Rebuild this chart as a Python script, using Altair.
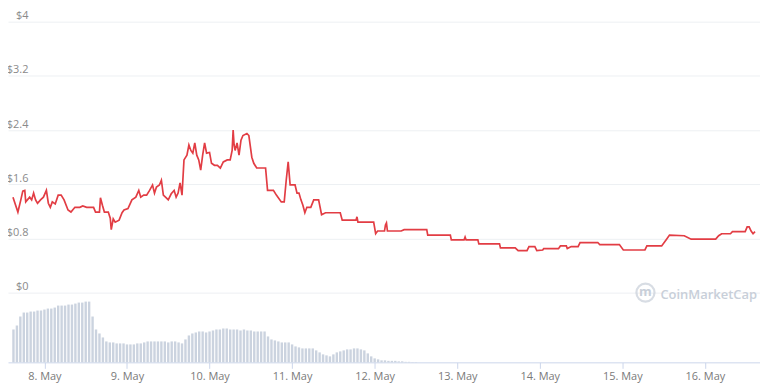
import altair as alt
import pandas as pd

# ---- data ----
# price series: hours since 7 May 00:00 (UTC) and price in USD
price_hours = [14.86, 16.29, 17.14, 17.71, 18.29, 18.57, 19.71, 20.29, 20.86, 21.43, 22.0, 22.86, 23.71,
               24.57, 25.14, 25.71, 26.29, 27.14, 28.0, 28.86, 29.71, 30.86, 31.71, 32.86, 34.29, 35.14,
               36.29, 38.29, 38.86, 40.0, 40.29, 40.86, 41.43, 42.57, 43.14, 43.43, 44.0, 44.57, 45.71,
               46.57, 47.14, 48.29, 49.43, 50.57, 51.43, 52.0, 52.86, 53.71, 54.57, 55.43, 56.0, 56.57,
               57.43, 58.0, 58.57, 59.43, 60.0, 60.86, 61.71, 62.29, 62.86, 63.43, 64.0, 64.57, 65.43,
               66.0, 66.57, 67.14, 67.71, 68.29, 68.86, 69.43, 70.0, 70.57, 71.14, 72.0, 72.57, 73.43,
               74.29, 75.14, 76.0, 77.14, 78.0, 78.57, 78.86, 79.14, 79.43, 80.0, 80.57, 81.14, 81.71,
               82.86, 83.43, 84.29, 84.86, 85.71, 88.29, 88.86, 90.57, 91.43, 92.86, 93.71, 94.29, 94.86,
               95.43, 96.86, 97.43, 98.0, 98.57, 99.14, 99.71, 100.29, 101.43, 102.29, 103.71, 104.57,
               105.71, 110.0, 110.57, 114.57, 114.86, 115.14, 119.71, 120.29, 120.86, 122.86, 123.14,
               123.43, 123.71, 127.71, 128.57, 135.14, 135.43, 142.0, 142.29, 146.0, 146.29, 146.57,
               150.0, 150.29, 156.29, 156.57, 160.86, 161.71, 164.29, 164.86, 166.57, 167.14, 168.86,
               169.14, 173.43, 174.0, 175.71, 176.0, 177.14, 179.14, 179.71, 184.86, 185.43, 191.14,
               192.29, 198.57, 199.14, 203.43, 204.86, 205.71, 210.0, 212.0, 219.14, 220.0, 220.86,
               223.43, 224.0, 227.71, 228.29, 228.86, 229.43, 230.0, 230.57]
price_usd = [1.41, 1.19, 1.37, 1.50, 1.51, 1.34, 1.41, 1.37, 1.47, 1.37, 1.32, 1.37, 1.41,
             1.51, 1.32, 1.26, 1.34, 1.31, 1.44, 1.44, 1.37, 1.22, 1.19, 1.26, 1.26, 1.28,
             1.26, 1.26, 1.19, 1.19, 1.40, 1.29, 1.19, 1.19, 1.10, 0.93, 1.09, 1.04, 1.07,
             1.18, 1.22, 1.24, 1.37, 1.41, 1.51, 1.41, 1.44, 1.44, 1.51, 1.59, 1.47, 1.56,
             1.59, 1.66, 1.44, 1.40, 1.37, 1.46, 1.51, 1.41, 1.47, 1.62, 1.44, 1.96, 2.03,
             2.18, 2.10, 2.06, 2.21, 2.03, 1.96, 1.81, 2.03, 2.21, 2.06, 2.07, 1.91, 1.88,
             1.88, 1.84, 1.93, 1.96, 1.96, 2.10, 2.40, 2.18, 2.10, 2.21, 2.03, 2.25, 2.32,
             2.35, 2.32, 2.00, 1.91, 1.84, 1.84, 1.51, 1.51, 1.44, 1.34, 1.34, 1.66, 1.93,
             1.59, 1.59, 1.47, 1.47, 1.37, 1.29, 1.18, 1.26, 1.26, 1.37, 1.37, 1.15,
             1.18, 1.18, 1.07, 1.07, 1.12, 1.04, 1.04, 0.87, 0.91, 0.91, 1.00,
             1.03, 0.91, 0.91, 0.93, 0.93, 0.85, 0.85, 0.78, 0.78, 0.82, 0.78,
             0.78, 0.72, 0.72, 0.66, 0.66, 0.62, 0.62, 0.68, 0.68, 0.62, 0.63,
             0.65, 0.65, 0.69, 0.69, 0.65, 0.68, 0.68, 0.74, 0.74, 0.71, 0.71,
             0.63, 0.63, 0.69, 0.69, 0.79, 0.85, 0.84, 0.79, 0.79, 0.84, 0.87,
             0.87, 0.90, 0.90, 0.97, 0.97, 0.91, 0.87, 0.90]

# hourly trading volume (relative units), starting 7 May 15:00
volume_start_hour = 15
volume_values = [33, 37, 46, 50, 50, 51, 51, 52, 52, 53, 54, 54, 55, 57, 57, 57, 58, 58, 59, 60,
                 60, 61, 61, 46, 33, 29, 25, 21, 20, 20, 19, 19, 19, 18, 18, 18, 19, 19, 20, 21,
                 21, 21, 21, 21, 21, 20, 21, 21, 20, 19, 23, 27, 29, 30, 31, 31, 30, 31, 32, 33,
                 33, 34, 34, 33, 33, 33, 32, 33, 32, 32, 31, 31, 31, 31, 26, 23, 22, 21, 20, 20,
                 20, 18, 16, 15, 14, 14, 14, 14, 12, 10, 8, 7, 6, 8, 10, 11, 12, 13, 13, 14,
                 14, 13, 12, 9, 6, 4, 3, 2, 2, 1.5, 1.5, 1.5, 1, 1, 0.5, 0.5, 0.3, 0.3]

day_ticks = ["2021-05-08", "2021-05-09", "2021-05-10", "2021-05-11", "2021-05-12",
             "2021-05-13", "2021-05-14", "2021-05-15", "2021-05-16"]
price_ticks = [0, 0.8, 1.6, 2.4, 3.2, 4]

# ---- tables ----
base = pd.Timestamp("2021-05-07T00:00:00")


def iso(hours):
    return (base + pd.to_timedelta(hours, unit="h")).strftime("%Y-%m-%dT%H:%M:%SZ")


def ms(ts):
    return int((pd.Timestamp(ts) - pd.Timestamp("1970-01-01")).total_seconds() * 1000)


price_df = pd.DataFrame({"t": [iso(h) for h in price_hours], "price": price_usd})
vol_df = pd.DataFrame({
    "t": [iso(volume_start_hour + i) for i in range(len(volume_values))],
    "vol": volume_values,
})

x_domain = [ms(base + pd.to_timedelta(14.86, unit="h")), ms(base + pd.to_timedelta(230.57, unit="h"))]
x_ticks = [ms(d) for d in day_ticks]

W, H = 755, 353
FONT = "Open Sans"

x_enc = alt.X(
    "t:T",
    scale=alt.Scale(type="utc", domain=x_domain),
    axis=alt.Axis(
        values=x_ticks, labelExpr="utcFormat(datum.value, '%-d. %b')", grid=False,
        domainColor="#ccd6eb", tickColor="#ccd6eb", tickSize=6, labelPadding=2,
        labelColor="#7a7a7a", labelFontSize=11, labelFont=FONT, labelFlush=False,
        labelOverlap=False, title=None,
    ),
)

volume = alt.Chart(vol_df).mark_bar(size=2.4, color="#cbd3df").encode(
    x=x_enc,
    y=alt.Y("vol:Q", scale=alt.Scale(domain=[0, H]), axis=None),
)

price = alt.Chart(price_df).mark_line(color="#e23d44", strokeWidth=1.7, clip=True).encode(
    x=x_enc,
    y=alt.Y(
        "price:Q",
        scale=alt.Scale(domain=[-1.029, -1.029 + H / 68.0], nice=False, zero=False),
        axis=alt.Axis(
            values=price_ticks, labelExpr="'$' + format(datum.value, '~g')",
            domain=False, ticks=False, tickSize=0, grid=True, gridColor="#edf0f3",
            labelAlign="right", labelBaseline="bottom", labelPadding=-20, labelOffset=-1,
            labelColor="#8a8a8a", labelFontSize=11, labelFont=FONT, labelOverlap=False,
            title=None,
        ),
    ),
)

wm_df = pd.DataFrame({"label": ["CoinMarketCap"], "logo": ["m"]})
wm_circle = alt.Chart(wm_df).mark_point(
    shape="circle", filled=False, size=330, strokeWidth=2.2, color="#c8cfd9"
).encode(x=alt.value(640), y=alt.value(283))
wm_logo = alt.Chart(wm_df).mark_text(
    fontSize=13, fontWeight="bold", color="#c8cfd9", font=FONT
).encode(x=alt.value(640), y=alt.value(282), text="logo:N")
wm_text = alt.Chart(wm_df).mark_text(
    align="left", baseline="middle", fontSize=13, fontWeight=600, color="#c8cfd9", font=FONT
).encode(x=alt.value(655), y=alt.value(285), text="label:N")

chart = (
    alt.layer(volume, price, wm_circle, wm_logo, wm_text)
    .resolve_scale(y="independent")
    .properties(
        width=W, height=H,
        autosize=alt.AutoSizeParams(type="none"),
        padding={"left": 0, "top": 2, "right": 0, "bottom": 25},
    )
    .configure_view(stroke=None)
)

chart.save("out.html", embed_options={"renderer": "svg", "actions": False})
